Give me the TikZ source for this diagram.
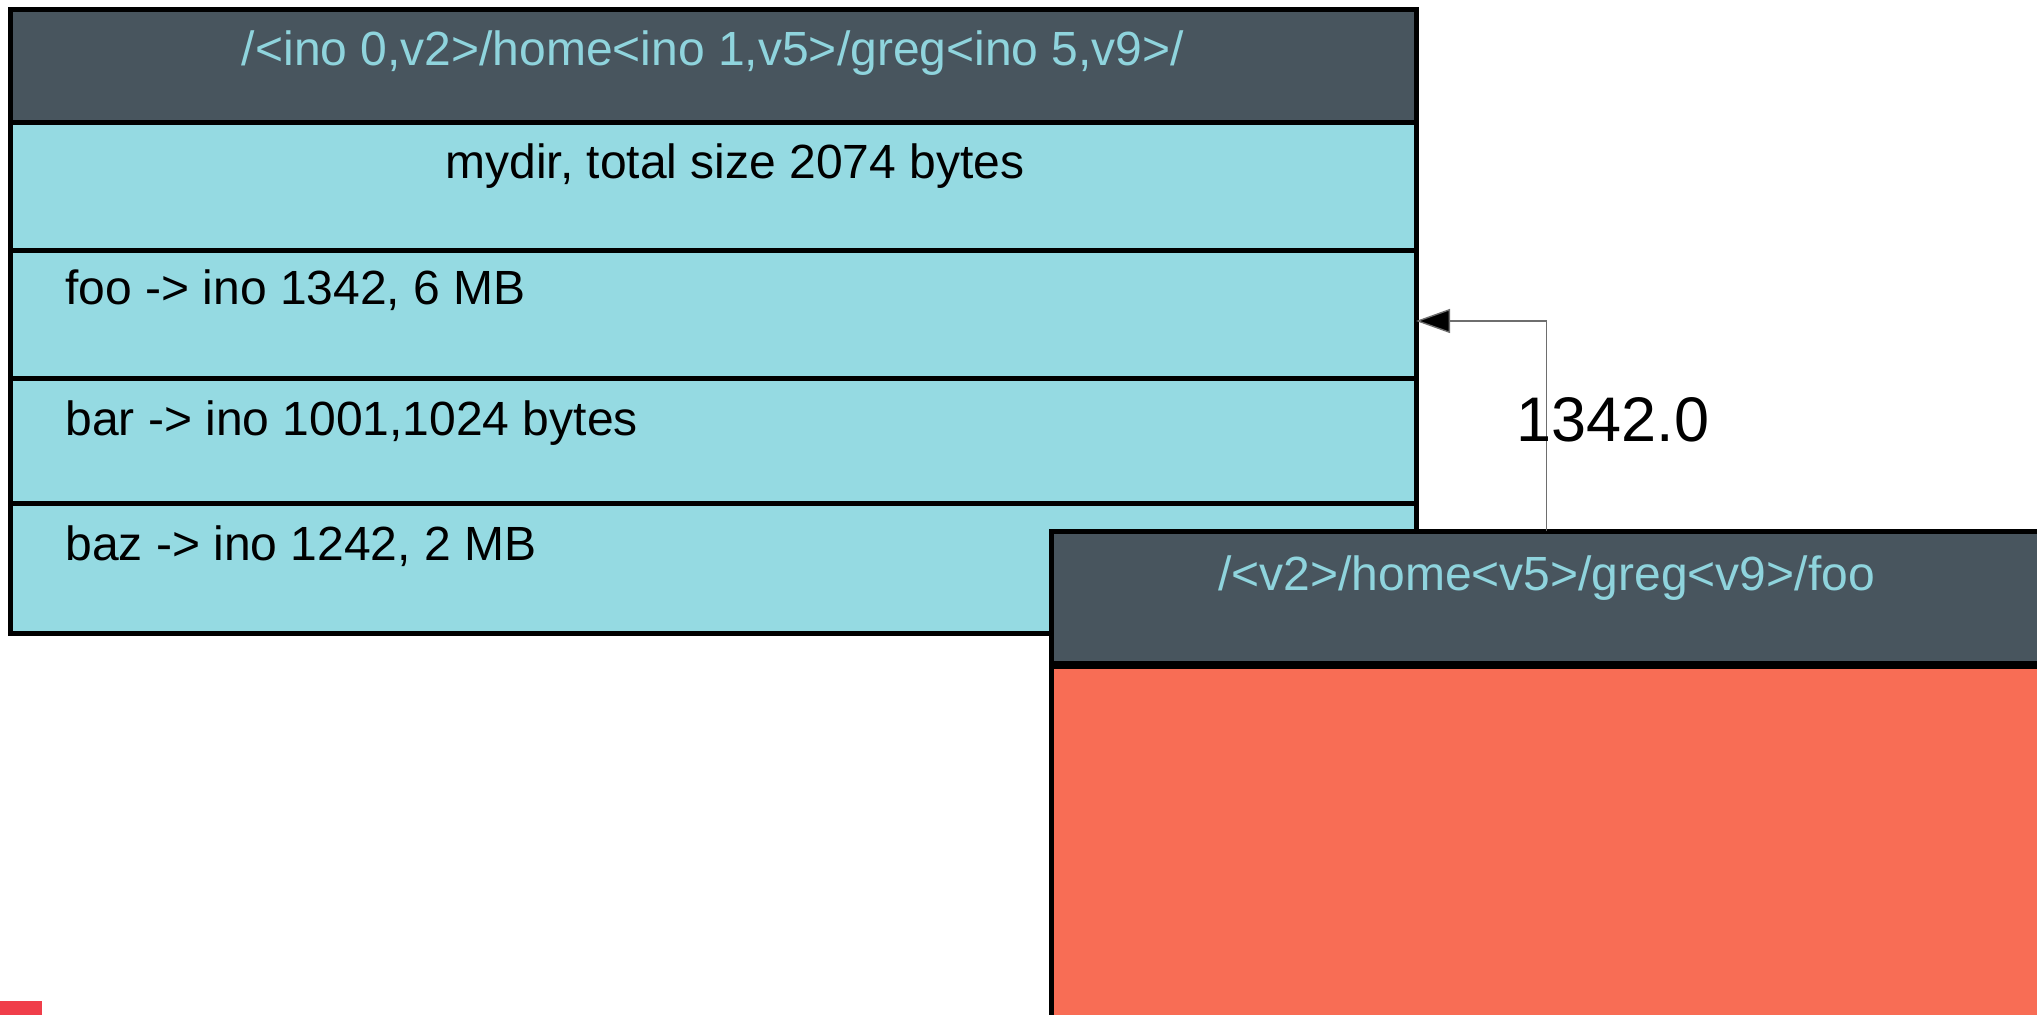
\documentclass[tikz,border=0pt]{standalone}
\usepackage{fontspec}
\setmainfont{Liberation Sans}
\usetikzlibrary{arrows.meta}

\definecolor{headdark}{HTML}{48555E}
\definecolor{headtext}{HTML}{8FD4DD}
\definecolor{rowfill}{HTML}{95DAE2}
\definecolor{filefill}{HTML}{F86D55}
\definecolor{markred}{HTML}{F03E4A}
\definecolor{linkgray}{HTML}{6E6E6E}

\tikzset{
  cell/.style={draw=black, line width=2.5pt, inner sep=0pt, outer sep=0pt, rectangle},
  headcell/.style={cell, fill=headdark},
  rowcell/.style={cell, fill=rowfill},
  filecell/.style={cell, fill=filefill},
  headlabel/.style={text=headtext, font=\fontsize{24}{28}\selectfont, anchor=base, inner sep=0pt},
  rowlabel/.style={text=black, font=\fontsize{24}{28}\selectfont, anchor=base west, inner sep=0pt},
  titlelabel/.style={text=black, font=\fontsize{24}{28}\selectfont, anchor=base, inner sep=0pt},
  link/.style={draw=linkgray, line width=0.7pt, -{Triangle[length=17pt,width=12pt,fill=black]}},
  linklabel/.style={text=black, font=\fontsize{31.5}{36}\selectfont, anchor=base, inner sep=0pt}
}

\begin{document}
\begin{tikzpicture}[x=0.5pt, y=-0.5pt]
  \useasboundingbox (0,0) rectangle (2037,1015);

  % directory listing block
  \node[headcell, minimum width=703pt, minimum height=56.5pt] (dhead) at (713,66.5) {};
  \node[rowcell, minimum width=703pt, minimum height=64pt] (mydir) at (713,187) {};
  \node[rowcell, minimum width=703pt, minimum height=64pt] (foo) at (713,315) {};
  \node[rowcell, minimum width=703pt, minimum height=62pt] (bar) at (713,441) {};
  \node[rowcell, minimum width=703pt, minimum height=65pt] (baz) at (713,568) {};

  \node[headlabel] (dheadtext) at (713,66) {/<ino 0,v2>/home<ino 1,v5>/greg<ino 5,v9>/};
  \node[titlelabel] (mydirtext) at (735,179) {mydir, total size 2074 bytes};
  \node[rowlabel] (footext) at (65,305) {foo -> ino 1342, 6 MB};
  \node[rowlabel] (bartext) at (65,436) {bar -> ino 1001,1024 bytes};
  \node[rowlabel] (baztext) at (65,560) {baz -> ino 1242, 2 MB};

  % file block
  \node[filecell, minimum width=495.5pt, minimum height=217pt] (fbody) at (1546.5,883) {};
  \node[headcell, minimum width=495.5pt, minimum height=66pt] (fhead) at (1546.5,597) {};
  \node[headlabel] (fheadtext) at (1546.5,590) {/<v2>/home<v5>/greg<v9>/foo};

  % inode link back to the directory entry
  \draw[link] (fhead.north) |- ([yshift=-3pt]foo.east);
  \node[linklabel] (linktext) at (1613,442) {1342.0};

  % small marker in the corner
  \fill[markred] (0,1001) rectangle (42,1020);
\end{tikzpicture}
\end{document}
